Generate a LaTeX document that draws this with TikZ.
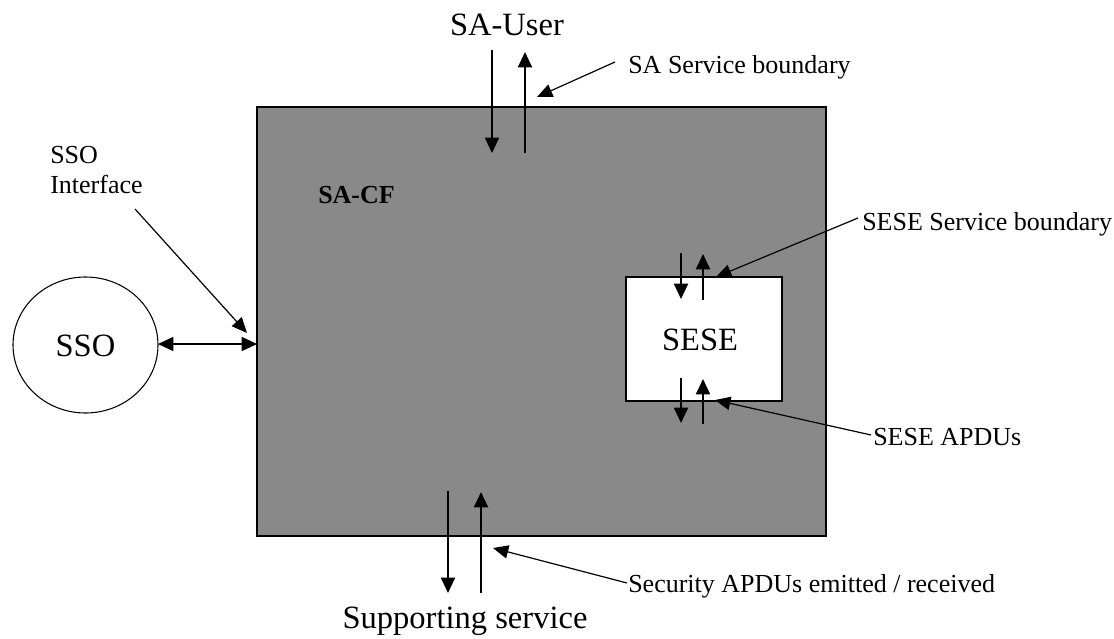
\documentclass[tikz,border=0pt]{standalone}
\usepackage{fontspec}
\setmainfont{Liberation Serif}
\usetikzlibrary{arrows.meta,shapes.geometric}
\begin{document}
\begin{tikzpicture}[x=0.75pt,y=-0.75pt,
  big/.style={font=\fontsize{24.4}{29}\selectfont,inner sep=0pt},
  small/.style={font=\fontsize{19.5}{22.5}\selectfont,inner sep=0pt},
  flow/.style={line width=1.5pt,-{Triangle[length=11.5pt,width=10.5pt]}},
  leader/.style={line width=0.9pt,-{Triangle[length=11.5pt,width=10pt]}},
  both/.style={line width=1.2pt,{Triangle[length=11.5pt,width=10.5pt]}-{Triangle[length=11.5pt,width=10.5pt]}}]
\useasboundingbox (0,0) rectangle (1114,639);

% security association control function
\filldraw[fill={rgb,255:red,137;green,137;blue,137},draw=black,line width=0.9pt]
  (257,107) rectangle (826,536);
\coordinate (cfwest) at (257,344);
\node[small,font=\fontsize{19.5}{22.5}\selectfont\bfseries,anchor=base west] (cf) at (318,203) {SA-CF};

% SESE box
\node[draw=black,fill=white,line width=0.9pt,minimum width=156*0.75pt,minimum height=124*0.75pt,inner sep=0pt] (sesebox) at (704,339) {};
\node[big,anchor=base] (sese) at (700,350) {SESE};

% SSO
\node[draw=black,line width=0.8pt,ellipse,minimum width=145*0.75pt,minimum height=136*0.75pt,inner sep=0pt] (sso) at (85.5,345) {};
\node[big,anchor=base] (ssotxt) at (85.5,356) {SSO};
\draw[both] (158,344) -- (cfwest);

% top: SA-User
\node[big,anchor=base] (user) at (507,35) {SA-User};
\coordinate (u1a) at (492,50);  \coordinate (u1b) at (492,153);
\coordinate (u2a) at (525,153); \coordinate (u2b) at (525,52);
\draw[flow] (u1a) -- (u1b);
\draw[flow] (u2a) -- (u2b);

% bottom: supporting service
\node[big,anchor=base] (supp) at (465,628) {Supporting service};
\coordinate (s1a) at (448,491); \coordinate (s1b) at (448,593);
\coordinate (s2a) at (481,593); \coordinate (s2b) at (481,492);
\draw[flow] (s1a) -- (s1b);
\draw[flow] (s2a) -- (s2b);

% SESE service primitives
\coordinate (e1a) at (681,253); \coordinate (e1b) at (681,299);
\coordinate (e2a) at (703,300); \coordinate (e2b) at (703,254);
\coordinate (e3a) at (681,378); \coordinate (e3b) at (681,423);
\coordinate (e4a) at (703,424); \coordinate (e4b) at (703,379);
\draw[flow] (e1a) -- (e1b);
\draw[flow] (e2a) -- (e2b);
\draw[flow] (e3a) -- (e3b);
\draw[flow] (e4a) -- (e4b);

% labels with leader arrows
\node[small,anchor=base west] (lsa) at (628,73) {SA Service boundary};
\coordinate (lsaS) at (615,62);  \coordinate (lsaT) at (537,97);
\draw[leader] (lsaS) -- (lsaT);

\node[small,anchor=base west] (lsese) at (862,230) {SESE Service boundary};
\coordinate (lseseS) at (858,218); \coordinate (lseseT) at (716,277);
\draw[leader] (lseseS) -- (lseseT);

\node[small,anchor=base west] (lapdu) at (873,445) {SESE APDUs};
\coordinate (lapduS) at (871,435); \coordinate (lapduT) at (715,400);
\draw[leader] (lapduS) -- (lapduT);

\node[small,anchor=base west] (lsec) at (628,592) {Security APDUs emitted / received};
\coordinate (lsecS) at (627,583); \coordinate (lsecT) at (493,548);
\draw[leader] (lsecS) -- (lsecT);

\node[small,anchor=base west] (lsso) at (50,163) {SSO};
\node[small,anchor=base west] (lsso2) at (50,193) {Interface};
\coordinate (lssoS) at (135,209); \coordinate (lssoT) at (247,333);
\draw[leader] (lssoS) -- (lssoT);
\end{tikzpicture}
\end{document}
